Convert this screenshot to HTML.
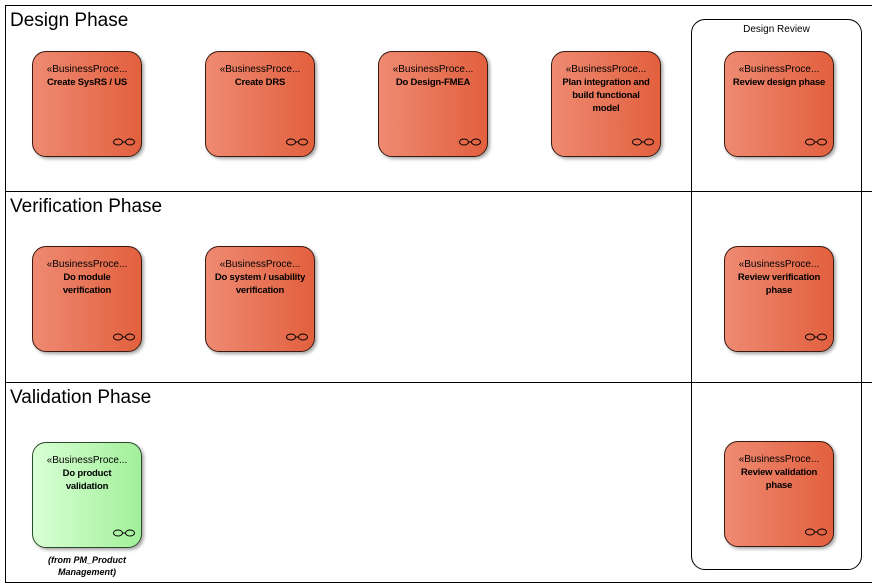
<!DOCTYPE html>
<html><head><style>
body{margin:0;width:872px;height:587px;background:#fff;position:relative;overflow:hidden;font-family:"Liberation Sans",sans-serif}
.a{position:absolute}
.lane{position:absolute;left:5px;width:870px;border:1px solid #000;box-sizing:border-box}
.t{position:absolute;left:4px;top:4px;font-size:19px;color:#000}
.n{position:absolute;width:110px;height:106px;border:1px solid #3a1a10;border-radius:14px;box-sizing:border-box;background:linear-gradient(to right,#ee8a72,#e2603e);box-shadow:2px 2px 3px rgba(0,0,0,.35);text-align:center;font-size:10px;color:#000;padding-top:11px;line-height:13px}
.n.g{background:linear-gradient(to right,#d8ffd4,#a2f09a);border-color:#2a4a2a}
.n b{display:block;white-space:nowrap;font-size:9.5px;letter-spacing:-0.2px}
.ic{position:absolute;right:6px;bottom:10px;width:22px;height:8px}
</style></head><body>
<div class="lane" style="top:5px;height:187px"><div class="t">Design Phase</div></div>
<div class="lane" style="top:191px;height:192px"><div class="t">Verification Phase</div></div>
<div class="lane" style="top:382px;height:201px"><div class="t">Validation Phase</div></div>
<div class="a" style="left:691px;top:19px;width:171px;height:551px;border:1px solid #000;border-radius:14px;box-sizing:border-box;background:transparent"></div>
<div class="a" style="left:691px;top:24px;width:171px;text-align:center;font-size:10px">Design Review</div>

<svg width="0" height="0" style="position:absolute"><defs><g id="i"><ellipse cx="5" cy="4" rx="4.5" ry="3" fill="none" stroke="#000"/><ellipse cx="17" cy="4" rx="4.5" ry="3" fill="none" stroke="#000"/><line x1="9.5" y1="4" x2="12.5" y2="4" stroke="#000"/></g></defs></svg>

<div class="n" style="left:32px;top:51px">«BusinessProce...<b>Create SysRS / US</b><svg class="ic"><use href="#i"/></svg></div>
<div class="n" style="left:205px;top:51px">«BusinessProce...<b>Create DRS</b><svg class="ic"><use href="#i"/></svg></div>
<div class="n" style="left:378px;top:51px">«BusinessProce...<b>Do Design-FMEA</b><svg class="ic"><use href="#i"/></svg></div>
<div class="n" style="left:551px;top:51px">«BusinessProce...<b>Plan integration and<br>build functional<br>model</b><svg class="ic"><use href="#i"/></svg></div>
<div class="n" style="left:724px;top:51px">«BusinessProce...<b>Review design phase</b><svg class="ic"><use href="#i"/></svg></div>

<div class="n" style="left:32px;top:246px">«BusinessProce...<b>Do module<br>verification</b><svg class="ic"><use href="#i"/></svg></div>
<div class="n" style="left:205px;top:246px">«BusinessProce...<b>Do system / usability<br>verification</b><svg class="ic"><use href="#i"/></svg></div>
<div class="n" style="left:724px;top:246px">«BusinessProce...<b>Review verification<br>phase</b><svg class="ic"><use href="#i"/></svg></div>

<div class="n g" style="left:32px;top:442px">«BusinessProce...<b>Do product<br>validation</b><svg class="ic"><use href="#i"/></svg></div>
<div class="a" style="left:32px;top:554px;width:110px;text-align:center;font-size:9px;font-style:italic;font-weight:bold;line-height:12px">(from PM_Product Management)</div>
<div class="n" style="left:724px;top:441px">«BusinessProce...<b>Review validation<br>phase</b><svg class="ic"><use href="#i"/></svg></div>
</body></html>
